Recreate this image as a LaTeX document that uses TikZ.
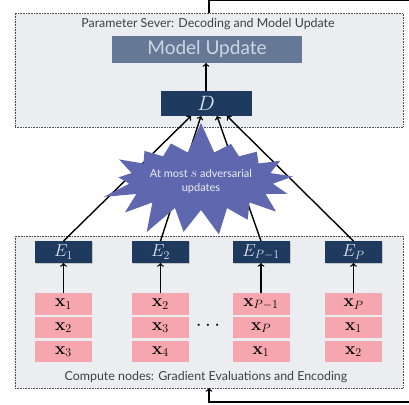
\documentclass[tikz,border=0pt]{standalone}
\usepackage[no-math]{fontspec}
\setmainfont{Lato}
\usetikzlibrary{shapes.symbols,shadows}
\definecolor{boxgray}{RGB}{236,237,240}
\definecolor{navy}{RGB}{30,58,95}
\definecolor{slate}{RGB}{101,121,150}
\definecolor{pinkcell}{RGB}{245,166,175}
\definecolor{starblue}{RGB}{95,104,174}
\definecolor{paletext}{RGB}{222,230,240}
\begin{document}
\begin{tikzpicture}
        [
            x=1pt, y=-1pt,
            every node/.style={inner sep=0pt, outer sep=0pt},
            panel/.style={draw=black!70, densely dotted, line width=0.6pt, fill=boxgray, minimum width=388pt},
            caption/.style={font=\fontsize{12.4}{13}\selectfont, text=black!75},
            navybox/.style={fill=navy, text=paletext},
            encnode/.style={navybox, minimum width=57pt, minimum height=22pt, font=\fontsize{18}{18}\selectfont,
                drop shadow={shadow xshift=1.2pt, shadow yshift=-1.2pt, opacity=0.35}},
            cell/.style={fill=pinkcell, minimum width=57pt, minimum height=21.5pt, font=\fontsize{17}{17}\selectfont},
            arr/.style={->, line width=1.4pt}
        ]
        \useasboundingbox (0,0) rectangle (409,404);
        \clip (0,0) rectangle (409,404);

        \node[panel, minimum height=114pt] (ps) at (209,70) {};
        \node[panel, minimum height=152pt] (cn) at (209,312) {};
        \node[caption] (pstitle) at (208,24) {Parameter Sever: Decoding and Model Update};
        \node[caption] (cntitle) at (206,377) {Compute nodes: Gradient Evaluations and Encoding};

        \node[fill=slate, text=paletext!85!slate, minimum width=190pt, minimum height=27pt,
            font=\fontsize{19}{19}\selectfont] (mu) at (207,49.5) {Model Update};
        \node[navybox, minimum width=91pt, minimum height=25pt, font=\fontsize{20}{20}\selectfont] (D) at (206,103.5) {$D$};

        \node[encnode] (e1) at (63.5,252) {$E_1$};
        \node[encnode] (e2) at (160.5,252) {$E_2$};
        \node[encnode] (e3) at (261,252) {$E_{P-1}$};
        \node[encnode] (e4) at (353.5,252) {$E_P$};

        \node[cell] (c11) at (63.5,304) {$\mathbf{x}_1$};
        \node[cell] (c12) at (63.5,327.5) {$\mathbf{x}_2$};
        \node[cell] (c13) at (63.5,351.5) {$\mathbf{x}_3$};
        \node[cell] (c21) at (160.5,304) {$\mathbf{x}_2$};
        \node[cell] (c22) at (160.5,327.5) {$\mathbf{x}_3$};
        \node[cell] (c23) at (160.5,351.5) {$\mathbf{x}_4$};
        \node[cell] (c31) at (261,304) {$\mathbf{x}_{P-1}$};
        \node[cell] (c32) at (261,327.5) {$\mathbf{x}_P$};
        \node[cell] (c33) at (261,351.5) {$\mathbf{x}_1$};
        \node[cell] (c41) at (353.5,304) {$\mathbf{x}_P$};
        \node[cell] (c42) at (353.5,327.5) {$\mathbf{x}_1$};
        \node[cell] (c43) at (353.5,351.5) {$\mathbf{x}_2$};
        \node[font=\fontsize{20}{20}\selectfont] (dots) at (208,326) {$\cdots$};

        \draw[arr] (D.north) -- (D.north |- mu.south);
        \draw[arr] (c11.north) -- (e1.south);
        \draw[arr] (c21.north) -- (e2.south);
        \draw[arr] (c31.north) -- (e3.south);
        \draw[arr] (c41.north) -- (e4.south);

        \draw[arr] (e1.north) -- ([xshift=-15pt]D.south);
        \draw[arr] (e2.north) -- ([xshift=-5pt]D.south);
        \draw[arr] (e3.north) -- ([xshift=11pt]D.south);
        \draw[arr] (e4.north) -- ([xshift=21pt]D.south);

        \node[starburst, fill=starblue, minimum width=205pt, minimum height=122pt, starburst points=17,
            starburst point height=32pt, random starburst=7, align=center, text=white!88!starblue,
            font=\fontsize{11}{14}\selectfont] (adv) at (201,181)
            {At most {\fontsize{15}{14}\selectfont$s$} adversarial\\updates};

        \coordinate (rt) at (430,0);
        \coordinate (rb) at (430,402);
        \draw[arr] (ps.north) |- (rt) -- (rb) -| (cn.south);
    \end{tikzpicture}
\end{document}
